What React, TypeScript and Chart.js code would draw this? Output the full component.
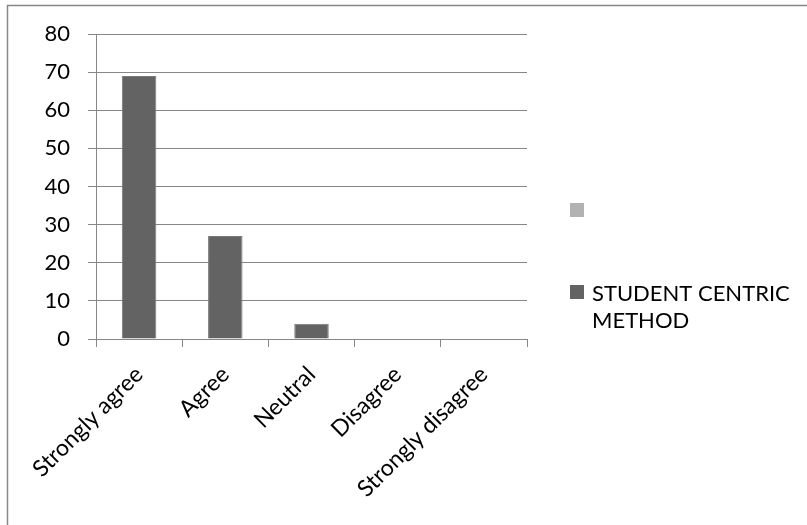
import React, { useEffect, useRef } from "react";
import { Chart, registerables } from "chart.js";

Chart.register(...registerables);

const categories = ["Strongly agree", "Agree", "Neutral", "Disagree", "Strongly disagree"];
const seriesName = "STUDENT CENTRIC METHOD";
const values = [69, 27, 4, 0, 0];
const yTicks = [0, 10, 20, 30, 40, 50, 60, 70, 80];
const legendLabels = ["", seriesName];
const legendColors = ["#b2b2b2", "#636363"];

const FONT = "Lato, 'DejaVu Sans', sans-serif";
const GRID = "#878787";

const framePlugin = {
  id: "frame",
  beforeDraw(chart: any) {
    const ctx = chart.ctx;
    ctx.save();
    ctx.fillStyle = "#ffffff";
    ctx.fillRect(0, 0, chart.width, chart.height);
    ctx.strokeStyle = GRID;
    ctx.lineWidth = 1.5;
    ctx.beginPath();
    ctx.moveTo(7.5, chart.height);
    ctx.lineTo(7.5, 5.5);
    ctx.lineTo(chart.width, 5.5);
    ctx.stroke();
    ctx.restore();
  },
};

function wrap(ctx: CanvasRenderingContext2D, text: string, maxW: number): string[] {
  const words = text.split(" ");
  const lines: string[] = [];
  let cur = "";
  for (const w of words) {
    const t = cur ? cur + " " + w : w;
    if (ctx.measureText(t).width > maxW && cur) {
      lines.push(cur);
      cur = w;
    } else cur = t;
  }
  lines.push(cur);
  return lines;
}

const legendPlugin = {
  id: "customLegend",
  afterDraw(chart: any) {
    const ctx = chart.ctx;
    ctx.save();
    ctx.font = `22px ${FONT}`;
    ctx.textBaseline = "alphabetic";
    const boxX = 570;
    const box = 14;
    const textX = 592;
    const tops = [203, 285];
    legendLabels.forEach((lab, i) => {
      const top = tops[i];
      ctx.fillStyle = legendColors[i];
      ctx.fillRect(boxX, top, box, box);
      ctx.fillStyle = "#000";
      const lines = lab ? wrap(ctx, lab, 212) : [];
      lines.forEach((ln, j) => {
        ctx.fillText(ln, textX, top + 16 + j * 27);
      });
    });
    ctx.restore();
  },
};

export default function App() {
  const ref = useRef<HTMLCanvasElement | null>(null);
  useEffect(() => {
    if (!ref.current) return;
    const chart = new Chart(ref.current, {
      type: "bar",
      data: {
        labels: categories,
        datasets: [
          {
            label: seriesName,
            data: values,
            backgroundColor: "#636363",
            borderColor: "#7a7a7a",
            borderWidth: 1,
            barPercentage: 0.4,
            categoryPercentage: 1,
          },
        ],
      },
      options: {
        responsive: false,
        animation: false,
        devicePixelRatio: 1,
        layout: { padding: { left: 0, top: 34, right: 280, bottom: 0 } },
        plugins: { legend: { display: false }, tooltip: { enabled: false }, title: { display: false } },
        scales: {
          x: {
            offset: true,
            grid: { display: true, drawOnChartArea: false, drawTicks: true, tickLength: 8, color: GRID, offset: true },
            border: { display: true, color: GRID, width: 1 },
            ticks: {
              color: "#000",
              font: { family: FONT, size: 23 },
              maxRotation: 45,
              minRotation: 45,
              padding: 14,
              autoSkip: false,
            },
            afterFit: (s: any) => {
              s.height = 186;
            },
          },
          y: {
            min: 0,
            max: 80,
            afterBuildTicks: (s: any) => {
              s.ticks = yTicks.map((v) => ({ value: v }));
            },
            grid: { color: GRID, tickLength: 8, drawTicks: true, lineWidth: 1 },
            border: { display: true, color: GRID, width: 1 },
            ticks: { color: "#000", font: { family: FONT, size: 22 }, padding: 18 },
            afterFit: (s: any) => {
              s.width = 96;
            },
          },
        },
      },
      plugins: [framePlugin, legendPlugin],
    });
    return () => chart.destroy();
  }, []);
  return (
    <canvas
      ref={ref}
      width={807}
      height={525}
      style={{ position: "absolute", left: 0, top: 0, width: 807, height: 525 }}
    />
  );
}
